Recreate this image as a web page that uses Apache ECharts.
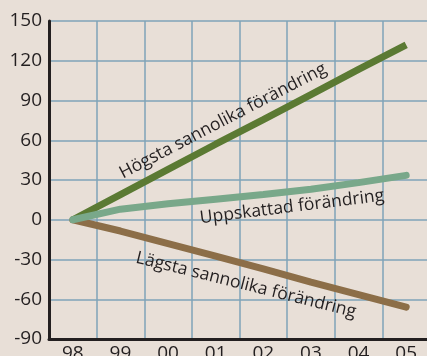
<!DOCTYPE html>
<html>
<head>
<meta charset="utf-8">
<script src="https://cdn.jsdelivr.net/npm/echarts@6/dist/echarts.min.js"></script>
<style>
html,body{margin:0;padding:0;background:#e8dfd7;}
#chart{width:427px;height:356px;}
</style>
</head>
<body>
<div id="chart"></div>
<script>
var categories = ['98','99','00','01','02','03','04','05'];
var hogsta = [0, 19, 38, 57, 75.5, 94.5, 113.5, 132];
var uppskattad = [0, 8, 12, 15.5, 19, 23, 28, 33.5];
var lagsta = [0, -8.5, -18, -27.5, -37, -47, -56.5, -66];
var yTicks = [-90, 150, 30];

var textColor = '#231f20';
var chart = echarts.init(document.getElementById('chart'), null, {renderer: 'canvas'});
var font = '"Open Sans", "Noto Sans", sans-serif';

chart.setOption({
  backgroundColor: '#e8dfd7',
  animation: false,
  grid: {left: 49, right: -3, top: 21, bottom: 17, containLabel: false, outerBoundsMode: 'none'},
  xAxis: {
    type: 'category',
    data: categories,
    boundaryGap: true,
    axisLine: {show: true, onZero: false, lineStyle: {color: textColor, width: 3}},
    axisTick: {show: false},
    axisLabel: {color: textColor, fontSize: 19, fontFamily: font, margin: 5, interval: 0},
    splitLine: {show: true, interval: 0, lineStyle: {color: '#7fa3b8', width: 1.5}}
  },
  yAxis: {
    type: 'value',
    min: yTicks[0],
    max: yTicks[1],
    interval: yTicks[2],
    axisLine: {show: true, lineStyle: {color: textColor, width: 3}},
    axisTick: {show: false},
    axisLabel: {color: textColor, fontSize: 19, fontFamily: font, margin: 7},
    splitLine: {show: true, lineStyle: {color: '#7fa3b8', width: 1.5}}
  },
  series: [
    {name: 'Lägsta', type: 'line', data: lagsta, showSymbol: false, z: 2,
     lineStyle: {color: '#8c6e48', width: 7, cap: 'round'}},
    {name: 'Högsta', type: 'line', data: hogsta, showSymbol: false, z: 3,
     lineStyle: {color: '#5b7a33', width: 7, cap: 'butt'}},
    {name: 'Uppskattad', type: 'line', data: uppskattad, showSymbol: false, z: 4,
     lineStyle: {color: '#79a88a', width: 7, cap: 'round'}}
  ],
  graphic: [
    {type: 'text', x: 223, y: 121, rotation: 27.5 * Math.PI / 180, z: 10,
     style: {text: 'Högsta sannolika förändring', fill: textColor, font: '17.5px ' + font, textAlign: 'center', textVerticalAlign: 'middle'}},
    {type: 'text', x: 292, y: 207, rotation: 7 * Math.PI / 180, z: 10,
     style: {text: 'Uppskattad förändring', fill: textColor, font: '17.5px ' + font, textAlign: 'center', textVerticalAlign: 'middle'}},
    {type: 'text', x: 246, y: 285, rotation: -14 * Math.PI / 180, z: 10,
     style: {text: 'Lägsta sannolika förändring', fill: textColor, font: '17.5px ' + font, textAlign: 'center', textVerticalAlign: 'middle'}}
  ]
});
</script>
</body>
</html>
